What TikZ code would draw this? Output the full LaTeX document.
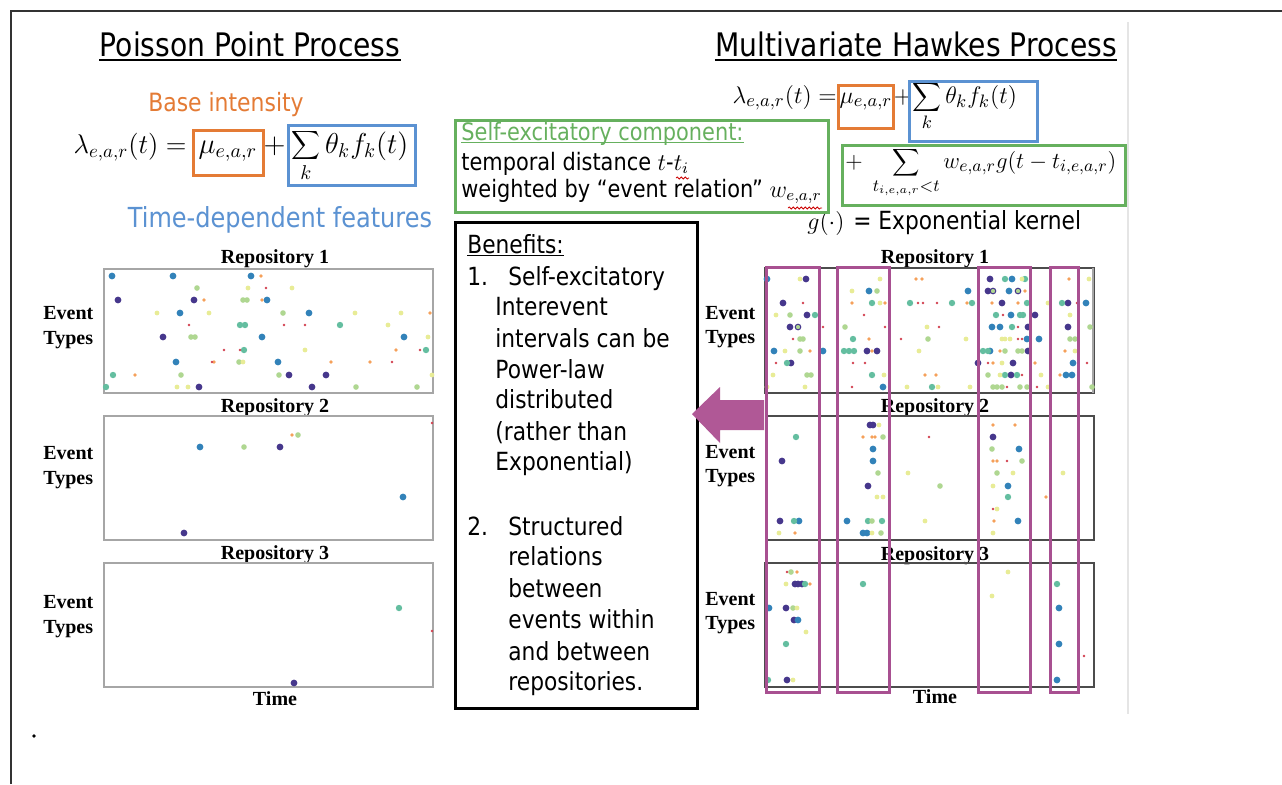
\documentclass[tikz,border=0pt]{standalone}
\usepackage{fontspec}
\newfontfamily\tah{DejaVu Sans}[FakeStretch=0.87]
\newfontfamily\tms{Liberation Serif}
\usetikzlibrary{decorations.pathmorphing}
\definecolor{cOr}{HTML}{E47B35}
\definecolor{cBl}{HTML}{5B92D2}
\definecolor{cGr}{HTML}{66B05E}
\definecolor{cMg}{RGB}{168,80,145}
\definecolor{cMgA}{RGB}{176,88,150}
\definecolor{cP}{RGB}{70,55,140}
\definecolor{cB}{RGB}{50,130,185}
\definecolor{cG}{RGB}{100,190,160}
\definecolor{cYG}{RGB}{175,215,145}
\definecolor{cY}{RGB}{232,236,150}
\definecolor{cO}{RGB}{245,160,90}
\definecolor{cR}{RGB}{210,65,80}
\tikzset{
  ttl/.style={font=\tah\fontsize{16.2}{19}\selectfont, inner sep=0pt, anchor=base},
  body/.style={font=\tah\fontsize{12}{14}\selectfont, inner sep=0pt, anchor=base west},
  ben/.style={font=\tah\fontsize{12.5}{15}\selectfont, inner sep=0pt, anchor=base west},
  lab/.style={font=\tms\bfseries\fontsize{10}{12}\selectfont, inner sep=0pt, anchor=base},
  evl/.style={font=\tms\bfseries\fontsize{10}{12}\selectfont, inner sep=0pt, anchor=base west},
  mathL/.style={font=\fontsize{14}{16}\selectfont, inner sep=0pt},
  mathR/.style={font=\fontsize{12.7}{15}\selectfont, inner sep=0pt},
  thickbox/.style={line width=1.5pt},
  lframe/.style={draw=black!35, line width=0.6pt},
  rframe/.style={draw=black!70, line width=0.6pt},
  hilite/.style={draw=cMg, line width=1.5pt},
  squig/.style={red!80!black, line width=0.4pt, decorate, decoration={snake, amplitude=0.5pt, segment length=2pt}},
  ul/.style={line width=0.7pt}
}
\begin{document}
\begin{tikzpicture}[x=0.5pt,y=-0.5pt]
\useasboundingbox (0,0) rectangle (1282,784);
\fill[white] (0,0) rectangle (1282,784);
% outer frame and faint screenshot edge
\draw[line width=1pt, black!80] (11,784) -- (11,11) -- (1282,11);
\draw[black!10, line width=0.6pt] (1128,22) -- (1128,714);

% ---------- titles ----------
\node[ttl] (tP) at (250,56) {Poisson Point Process};
\node[ttl] (tH) at (916,56) {Multivariate Hawkes Process};
\draw[line width=1pt] ([yshift=-1.8pt]tP.base west) -- ([yshift=-1.8pt]tP.base east);
\draw[line width=1pt] ([yshift=-1.8pt]tH.base west) -- ([yshift=-1.8pt]tH.base east);

% ---------- left equation ----------
\node[font=\tah\fontsize{12.6}{15}\selectfont, text=cOr, inner sep=0pt, anchor=base] (bi) at (226,111) {Base intensity};
\node[mathL, anchor=base east] (lamL) at (187,153) {\scalebox{0.94}{$\lambda_{e,a,r}(t) =$}};
\node[mathL, anchor=base] (muL) at (228,153) {$\mu_{e,a,r}$};
\node[mathL, anchor=base] (plL) at (274.5,153) {$+$};
\node[mathL, anchor=base west] (sumL) at (291,153) {\smash{$\displaystyle\sum_k \theta_k f_k(t)$}};
\draw[cOr, thickbox] (193,130) rectangle (263,175);
\draw[cBl, thickbox] (288,125) rectangle (415,185);
\node[font=\tah\fontsize{13.8}{16}\selectfont, text=cBl, inner sep=0pt, anchor=base] (tdf) at (280,227) {Time-dependent features};

% ---------- right equation ----------
\node[mathR, anchor=base east] (lamR) at (837,103) {$\lambda_{e,a,r}(t) =$};
\node[mathR, anchor=base] (muR) at (866,103) {$\mu_{e,a,r}$};
\node[mathR, anchor=base] (plR) at (903,103) {$+$};
\node[mathR, anchor=base west] (sumR) at (912,103) {$\displaystyle\sum_k \theta_k f_k(t)$};
\draw[cOr, thickbox] (838,85) rectangle (893,128);
\draw[cBl, thickbox] (909,81) rectangle (1037,141);
\node[mathR, anchor=base west] (hawk) at (845,168) {\scalebox{0.95}{$+\;\displaystyle\sum_{t_{i,e,a,r}<t} w_{e,a,r}g(t-t_{i,e,a,r})$}};
\draw[cGr, thickbox] (842,145) rectangle (1125,205);
\node[body, font=\tah\fontsize{12.5}{14}\selectfont] (kern) at (807,229) {{\fontsize{12.7}{15}\selectfont$g(\cdot)$}\hspace{1pt} = Exponential kernel};

% ---------- self-excitatory box ----------
\draw[cGr, thickbox] (455,120) rectangle (828,212);
\node[body, text=cGr] (se1) at (461,140) {Self-excitatory component:};
\draw[cGr, ul] ([yshift=-1.3pt]se1.base west) -- ([yshift=-1.3pt]se1.base east);
\node[body] (se2) at (461,170) {temporal distance $t$-$t_i$};
\node[body] (se3) at (461,197) {weighted by “event relation” $w_{e,a,r}$};
\draw[squig] (676,178) -- (689,178);
\draw[squig] (788,208) -- (822,208);

% ---------- benefits box ----------
\draw[black, thickbox] (455,222) rectangle (697,708);
\node[ben] (b0) at (467,253) {Benefits:};
\draw[ul] ([yshift=-1.2pt]b0.base west) -- ([yshift=-1.2pt]b0.base east);
\node[ben] (b1n) at (467,285) {1.};
\node[ben] (b1) at (508,285) {Self-excitatory};
\node[ben] (b2) at (495,315) {Interevent};
\node[ben] (b3) at (495,347) {intervals can be};
\node[ben] (b4) at (495,378) {Power-law};
\node[ben] (b5) at (495,408) {distributed};
\node[ben] (b6) at (495,440) {(rather than};
\node[ben] (b7) at (495,470) {Exponential)};
\node[ben] (b8n) at (467,535) {2.};
\node[ben] (b8) at (508,535) {Structured};
\node[ben] (b9) at (508,565) {relations};
\node[ben] (b10) at (508,597) {between};
\node[ben] (b11) at (508,628) {events within};
\node[ben] (b12) at (508,660) {and between};
\node[ben] (b13) at (508,690) {repositories.};

% ---------- left plots ----------
\node[lab] (rl1) at (275,263) {Repository 1};
\node[lab] (rl2) at (275,412) {Repository 2};
\node[lab] (rl3) at (275,559) {Repository 3};
\node[lab] (tl) at (275,705) {Time};
\draw[lframe] (104,269) rectangle (433,393);
\draw[lframe] (104,416) rectangle (433,540);
\draw[lframe] (104,563) rectangle (433,687);
\foreach \n/\y in {1/319,2/459,3/608}{
  \node[evl] (evL\n) at (43,\y) {Event};
  \node[evl] (tyL\n) at (43,\y+25) {Types};
}
% left dots
\foreach \x/\y in {118/300,194/300,163/337,289/375,326/375,199/387,312/387,280/447,184/533,294/683}
  \fill[cP] (\x,\y) circle (1.7pt);
\foreach \x/\y in {112/276,173/276,251/276,267/300,180/313,309/313,262/337,404/337,176/362,278/362,200/447,403/497}
  \fill[cB] (\x,\y) circle (1.7pt);
\foreach \x/\y in {240/325,245/325,340/325,244/350,426/350,113/375,106/387,399/608}
  \fill[cG] (\x,\y) circle (1.6pt);
\foreach \x/\y in {197/288,243/300,247/300,283/313,191/337,195/337,239/362,181/375,279/375,356/387,417/387,298/435,244/447}
  \fill[cYG] (\x,\y) circle (1.4pt);
\foreach \x/\y in {248/288,292/288,157/313,209/313,355/313,401/313,388/325,428/337,305/350,243/362,432/375,177/387,188/387}
  \fill[cY] (\x,\y) circle (1.2pt);
\foreach \x/\y in {261/276,204/300,262/300,430/313,396/350,214/362,331/362,370/362,135/375,292/435}
  \fill[cO] (\x,\y) circle (0.9pt);
\foreach \x/\y in {266/288,189/325,284/325,305/325,224/350,240/350,420/350,212/362,392/362,432/423,432/631}
  \fill[cR] (\x,\y) circle (0.7pt);

% ---------- right plots ----------
\fill[cMgA] (692,414) -- (720,387) -- (720,400) -- (764,400) -- (764,430) -- (720,430) -- (720,443) -- cycle;
\node[lab] (rr1) at (935,263) {Repository 1};
\node[lab] (rr2) at (935,412) {Repository 2};
\node[lab] (rr3) at (935,560) {Repository 3};
\node[lab] (tr) at (935,703) {Time};
\draw[rframe] (765,268) rectangle (1094,393);
\draw[black!35, line width=1.2pt] (1093,268) -- (1093,393);
\draw[rframe] (766,416) rectangle (1094,540);
\draw[rframe] (765,563) rectangle (1094,687);
\foreach \n/\y in {1/319,2/458,3/605}{
  \node[evl] (evR\n) at (705,\y) {Event};
  \node[evl] (tyR\n) at (705,\y+24) {Types};
}
% right dots
\foreach \x/\y in {806/279,990/279,988/291,783/303,1002/303,1068/303,807/315,1035/315,790/327,1028/327,1068/327,867/351,877/351,1028/351,791/363,978/363,1013/363,1011/375,870/425,873/425,993/437,782/461,868/486,780/521,795/584,798/584,802/584,786/608,794/620,787/680}
  \fill[cP] (\x,\y) circle (1.7pt);
\foreach \x/\y in {767/279,1012/279,869/291,968/291,1009/291,1086/303,1011/315,992/327,1000/327,1027/339,1039/339,774/351,823/351,990/351,1073/363,1066/375,1072/375,883/387,873/449,1019/449,873/461,1008/486,799/521,847/521,1018/521,863/533,867/533,769/608,1059/608,798/620,1059/644,1057/680}
  \fill[cB] (\x,\y) circle (1.7pt);
\foreach \x/\y in {1005/279,1025/279,872/303,910/303,952/303,972/303,1027/303,1062/303,815/315,996/315,1020/315,1023/315,1012/327,853/339,844/351,849/351,854/351,983/351,988/351,787/363,872/375,1005/375,1017/375,932/387,796/437,1008/497,794/521,868/521,882/521,805/584,863/584,1057/584,786/644,768/680}
  \fill[cG] (\x,\y) circle (1.6pt);
\foreach \x/\y in {877/291,790/315,845/327,1090/327,800/339,803/339,928/339,1070/339,1075/339,800/351,1005/351,1018/351,1022/351,807/375,811/375,988/375,993/387,997/387,1002/387,1020/387,1027/387,1092/387,883/437,992/449,1022/461,878/473,997/473,940/486,872/521,881/533,791/572,793/608}
  \fill[cYG] (\x,\y) circle (1.4pt);
\foreach \x/\y in {993/291,1018/291,798/327}
  \filldraw[fill=cYG, draw=cP, line width=0.5pt] (\x,\y) circle (1.4pt);
\foreach \x/\y in {800/279,880/279,1022/279,1089/279,852/291,880/303,1048/303,776/315,1070/315,927/327,966/339,1002/339,1005/339,1010/339,785/351,919/351,1075/351,1002/363,773/375,884/375,1000/375,1041/375,767/387,805/387,907/387,938/387,970/387,1048/387,879/425,908/473,1013/473,1063/473,993/486,877/497,883/497,997/509,925/521,779/533,872/533,993/533,1008/572,786/584,992/596,797/608,806/632,793/680}
  \fill[cY] (\x,\y) circle (1.2pt);
\foreach \x/\y in {916/279,922/279,1069/279,1025/291,852/303,885/303,967/303,992/303,1018/303,869/339,810/351,872/351,1000/351,1065/351,993/363,1035/363,925/375,936/375,1060/375,993/425,1015/425,863/437,872/437,875/437,993/461,997/461,1046/497,994/521,795/533,797/572,810/584}
  \fill[cO] (\x,\y) circle (0.9pt);
\foreach \x/\y in {803/303,918/303,923/303,937/303,1077/303,864/315,1003/315,823/327,885/327,939/327,1018/327,793/339,901/339,1018/339,1022/339,776/363,853/363,865/363,988/363,1087/363,1022/375,852/387,1007/387,1037/387,929/437,1007/461,993/509,787/572,1084/656}
  \fill[cR] (\x,\y) circle (0.7pt);
% highlighted time windows
\draw[hilite] (766,267) rectangle (819,692);
\draw[hilite] (837,267) rectangle (889,692);
\draw[hilite] (978,267) rectangle (1030,692);
\draw[hilite] (1050,267) rectangle (1078,692);

% stray full stop
\fill (34,736) circle (0.9pt);
\end{tikzpicture}
\end{document}
